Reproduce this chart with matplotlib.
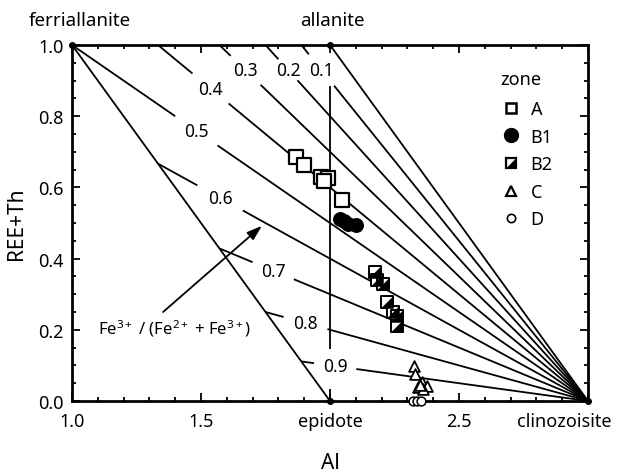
import matplotlib
matplotlib.use("Agg")
import matplotlib.pyplot as plt
from matplotlib.lines import Line2D
import matplotlib.transforms as mtransforms
import numpy as np

plt.rcParams['font.family'] = ['Noto Sans', 'DejaVu Sans']
plt.rcParams['mathtext.fontset'] = 'custom'
plt.rcParams['mathtext.rm'] = 'Noto Sans'
plt.rcParams['mathtext.it'] = 'Noto Sans:italic'
plt.rcParams['mathtext.bf'] = 'Noto Sans:bold'
plt.rcParams['mathtext.default'] = 'regular'

# ---- data ----
ratios = [0.0, 0.1, 0.2, 0.3, 0.4, 0.5, 0.6, 0.7, 0.8, 0.9]
ratio_labels = ['', '0.1', '0.2', '0.3', '0.4', '0.5', '0.6', '0.7', '0.8', '0.9']

zoneA_x = [1.869, 1.901, 1.966, 1.993, 1.975, 2.045]
zoneA_y = [0.685, 0.664, 0.630, 0.626, 0.618, 0.565]
zoneB1_x = [2.040, 2.055, 2.070, 2.100]
zoneB1_y = [0.512, 0.506, 0.498, 0.494]
zoneB2_x = [2.174, 2.181, 2.204, 2.222, 2.245, 2.261, 2.261]
zoneB2_y = [0.361, 0.341, 0.329, 0.279, 0.251, 0.238, 0.212]
zoneC_x = [2.326, 2.329, 2.355, 2.375, 2.342, 2.360, 2.348]
zoneC_y = [0.099, 0.076, 0.052, 0.043, 0.038, 0.035, 0.045]
zoneD_x = [2.322, 2.337, 2.352]
zoneD_y = [0.0, 0.0, 0.0]

zone_names = ['A', 'B1', 'B2', 'C', 'D']

xticks = [1.0, 1.5, 2.0, 2.5, 3.0]
xticklabels = ['1.0', '1.5', 'epidote', '2.5', 'clinozoisite']
yticks = [0.0, 0.2, 0.4, 0.6, 0.8, 1.0]
yticklabels = ['0.0', '0.2', '0.4', '0.6', '0.8', '1.0']

# label positions (x along line) and gap half-widths
label_x = [None, 1.967, 1.837, 1.673, 1.537, 1.482, 1.574, 1.780, 1.905, 2.020]
gap_half = [None, 0.049, 0.037, 0.058, 0.070, 0.082, 0.088, 0.080, 0.085, 0.082]

fig = plt.figure(figsize=(6.2, 4.77), dpi=100)
ax = fig.add_axes([72/620, 1-402/477, (588-72)/620, (402-46)/477])
ax.set_xlim(1.0, 3.0)
ax.set_ylim(0.0, 1.0)

lw = 1.3
# isolines through clinozoisite (3,0): y = (1-r)(3-x)
for r, lab, lx, gh in zip(ratios, ratio_labels, label_x, gap_half):
    if r <= 0.5:
        x0 = 3 - 1/(1 - r)
    else:
        x0 = (3*r - 1)/r
    f = lambda x: (1 - r)*(3 - x)
    if lx is None:
        ax.plot([x0, 3], [f(x0), 0], color='black', lw=lw, solid_capstyle='butt')
    else:
        a, b = lx - gh, lx + gh
        ax.plot([x0, a], [f(x0), f(a)], color='black', lw=lw, solid_capstyle='butt')
        ax.plot([b, 3], [f(b), 0], color='black', lw=lw, solid_capstyle='butt')
        ax.text(lx, f(lx), lab, ha='center', va='center', fontsize=12.5)

# ferriallanite - epidote line
ax.plot([1, 2], [1, 0], color='black', lw=lw)
# vertical line at Al = 2 with gaps for labels
ax.plot([2, 2], [0.146, 0.885], color='black', lw=lw, solid_capstyle='butt')
ax.plot([2, 2], [0.0, 0.034], color='black', lw=lw, solid_capstyle='butt')

# vertex dots
ax.plot([1, 2, 2, 3], [1, 1, 0, 0], 'o', color='black', ms=4, clip_on=False, zorder=5)

# data points
tri_lr = [(-1, -1), (1, -1), (1, 1), (-1, -1)]
ax.scatter(zoneA_x, zoneA_y, marker='s', s=90, facecolor='white', edgecolor='black', linewidth=1.6, zorder=6)
ax.scatter(zoneB1_x, zoneB1_y, marker='o', s=95, facecolor='black', edgecolor='black', zorder=6)
ax.scatter(zoneB2_x, zoneB2_y, marker='s', s=70, facecolor='white', edgecolor='black', linewidth=1.4, zorder=6)
ax.scatter(zoneB2_x, zoneB2_y, marker=tri_lr, s=70, facecolor='black', edgecolor='black', linewidth=0.5, zorder=7)
ax.scatter(zoneC_x, zoneC_y, marker='^', s=60, facecolor='white', edgecolor='black', linewidth=1.3, zorder=6)
ax.scatter(zoneD_x, zoneD_y, marker='o', s=40, facecolor='white', edgecolor='black', linewidth=1.1, zorder=8, clip_on=False)

# legend
hA = Line2D([], [], ls='none', marker='s', ms=7, mfc='white', mec='black', mew=1.8)
hB1 = Line2D([], [], ls='none', marker='o', ms=10, mfc='black', mec='black')
hB2a = Line2D([], [], ls='none', marker='s', ms=7, mfc='white', mec='black', mew=1.6)
hB2b = Line2D([], [], ls='none', marker=tri_lr, ms=7, mfc='black', mec='black', mew=0.5)
hC = Line2D([], [], ls='none', marker='^', ms=7, mfc='white', mec='black', mew=1.6)
hD = Line2D([], [], ls='none', marker='o', ms=6, mfc='white', mec='black', mew=1.2)
ax.legend([hA, hB1, (hB2a, hB2b), hC, hD], zone_names,
          loc='upper left', bbox_to_anchor=(0.833, 0.845),
          frameon=False, fontsize=13, handlelength=1.0,
          handletextpad=0.6, labelspacing=0.53, borderpad=0.0, borderaxespad=0.0)
ax.text(2.74, 0.904, 'zone', ha='center', va='center', fontsize=13)

# arrow annotation
ax.annotate('', xy=(1.736, 0.492), xytext=(1.353, 0.25),
            arrowprops=dict(arrowstyle='-|>,head_length=0.9,head_width=0.3', color='black', lw=1.3,
                            shrinkA=0, shrinkB=0))
ax.text(1.395, 0.205, r'Fe$^{3+}$ / (Fe$^{2+}$ + Fe$^{3+}$)', ha='center', va='center', fontsize=12)

# end-member labels at top
ax.text(1.03, 1.045, 'ferriallanite', ha='center', va='bottom', fontsize=13.5, clip_on=False)
ax.text(2.01, 1.045, 'allanite', ha='center', va='bottom', fontsize=13.5, clip_on=False)

# ticks
ax.set_xticks(xticks)
ax.set_xticklabels(xticklabels, fontsize=13)
ax.set_yticks(yticks)
ax.set_yticklabels(yticklabels, fontsize=13)
ax.set_xticks(np.arange(1.0, 3.001, 0.1), minor=True)
ax.set_yticks(np.arange(0.0, 1.001, 0.05), minor=True)
ax.tick_params(which='both', direction='in', top=True, right=True, width=1.3)
ax.tick_params(which='major', length=6)
ax.tick_params(axis='x', which='major', pad=8)
ax.tick_params(axis='y', which='major', pad=6)
ax.tick_params(which='minor', length=3)
for s in ax.spines.values():
    s.set_linewidth(2)

# shift last x tick label so it stays inside the figure
last = ax.get_xticklabels()[-1]
last.set_transform(last.get_transform() + mtransforms.ScaledTranslation(-24/100, 0, fig.dpi_scale_trans))

ax.set_xlabel('Al', fontsize=15, labelpad=16)
ax.set_ylabel('REE+Th', fontsize=15, labelpad=8)

fig.savefig('out.png', dpi=100)
